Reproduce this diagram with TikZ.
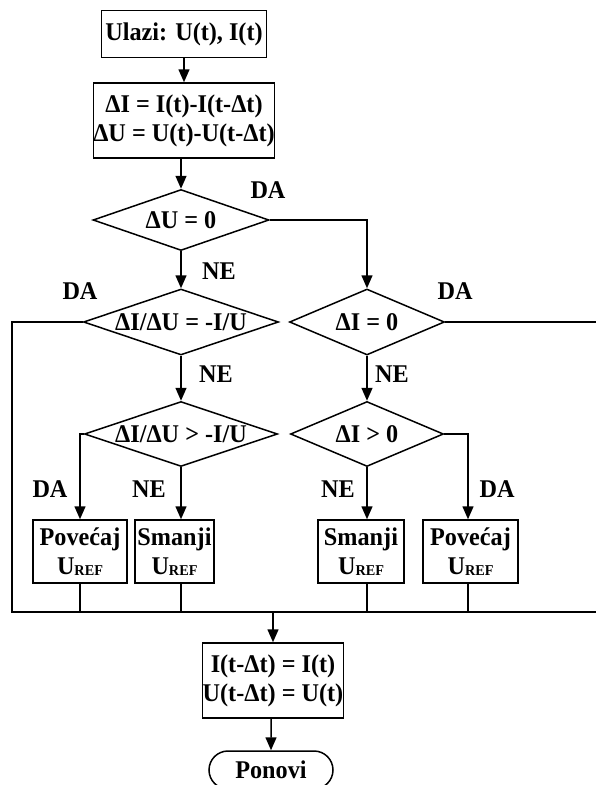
\documentclass[tikz,border=0pt]{standalone}
\usepackage{fontspec}
\setmainfont{Liberation Serif}[FakeStretch=0.95]
\usetikzlibrary{shapes.geometric,shapes.misc,arrows.meta}

\newcommand{\uref}{U\raisebox{-1.5pt}{\fontsize{15}{15}\selectfont REF}}

\tikzset{
  flow/.style={line width=1.5pt},
  arr/.style={flow,-{Triangle[width=11pt,length=13pt]}},
  proc/.style={draw,flow,inner sep=0pt,align=center},
  decision/.style={diamond,draw,flow,inner sep=0pt},
  lbl/.style={inner sep=0pt}
}

\begin{document}
\begin{tikzpicture}[x=1pt,y=-1pt,font=\fontsize{25.5}{29}\selectfont\bfseries]
    \useasboundingbox (0,0) rectangle (595,785);

    % input and differences
    \node[proc,minimum width=165,minimum height=47] (ulaz) at (184,34) {Ulazi: U(t), I(t)};
    \node[proc,minimum width=165,minimum height=75] (razlika) at (184,120.5) {ΔI = I(t)-I(t-Δt)\\ΔU = U(t)-U(t-Δt)};

    % decisions
    \node[decision,minimum width=176,minimum height=61] (dU) at (181,220) {\makebox[0pt]{ΔU = 0}};
    \node[decision,minimum width=195,minimum height=66] (dIdU) at (181,322) {\makebox[0pt]{ΔI/ΔU = -I/U}};
    \node[decision,minimum width=155,minimum height=66] (dI) at (367,322) {\makebox[0pt]{ΔI = 0}};
    \node[decision,minimum width=193,minimum height=65] (dIdUv) at (181,434) {\makebox[0pt]{ΔI/ΔU > -I/U}};
    \node[decision,minimum width=153,minimum height=65] (dIv) at (367,434) {\makebox[0pt]{ΔI > 0}};

    % reference updates
    \node[proc,minimum width=94,minimum height=63] (pov1) at (80,551.5) {Povećaj\\\uref};
    \node[proc,minimum width=79,minimum height=63] (sma1) at (174.5,551.5) {Smanji\\\uref};
    \node[proc,minimum width=86,minimum height=63] (sma2) at (361,551.5) {Smanji\\\uref};
    \node[proc,minimum width=95,minimum height=63] (pov2) at (470.5,551.5) {Povećaj\\\uref};

    % store and repeat
    \node[proc,minimum width=134,minimum height=75] (spremi) at (273,680.5) {I(t-Δt) = I(t)\\U(t-Δt) = U(t)};
    \node[rounded rectangle,draw,flow,inner sep=0pt,minimum width=124,minimum height=38] (ponovi) at (271,770) {Ponovi};

    % bus coordinates
    \coordinate (busL) at (12,612);
    \coordinate (busR) at (600,612);
    \coordinate (busM) at (273,612);
    \coordinate (izlaz) at (600,322);

    % connectors
    \draw[arr] (ulaz) -- (razlika);
    \draw[arr] (razlika.south -| dU.north) -- (dU);
    \draw[arr] (dU.east) -| (dI.north);
    \draw[arr] (dU) -- (dIdU);
    \draw[flow] (dIdU.west) -| (busL) -- (busR);
    \draw[flow] (dI.east) -- (izlaz);
    \draw[arr] (dIdU) -- (dIdUv);
    \draw[arr] (dI.south) -- (dI.south |- dIv.north);
    \draw[arr] (dIdUv.west) -| (pov1.north);
    \draw[arr] (dIdUv.south) -- (dIdUv.south |- sma1.north);
    \draw[arr] (dIv.south) -- (dIv.south |- sma2.north);
    \draw[arr] (dIv.east) -| ([xshift=-2.5pt]pov2.north);
    \draw[flow] (pov1.south) -- (pov1.south |- busL);
    \draw[flow] (dIdUv.south |- sma1.south) -- (dIdUv.south |- busL);
    \draw[flow] (dIv.south |- sma2.south) -- (dIv.south |- busL);
    \draw[flow] ([xshift=-2.5pt]pov2.south) -- ([xshift=-2.5pt]pov2.south |- busL);
    \draw[arr] (busM) -- (spremi);
    \draw[arr] (spremi.south -| ponovi.north) -- (ponovi);

    % branch labels
    \node[lbl] at (268,190) {DA};
    \node[lbl] at (219,271) {NE};
    \node[lbl] at (80,291) {DA};
    \node[lbl] at (455,291) {DA};
    \node[lbl] at (216,374) {NE};
    \node[lbl] at (392,374) {NE};
    \node[lbl] at (50,489) {DA};
    \node[lbl] at (149,489) {NE};
    \node[lbl] at (338,489) {NE};
    \node[lbl] at (497,489) {DA};
\end{tikzpicture}
\end{document}
